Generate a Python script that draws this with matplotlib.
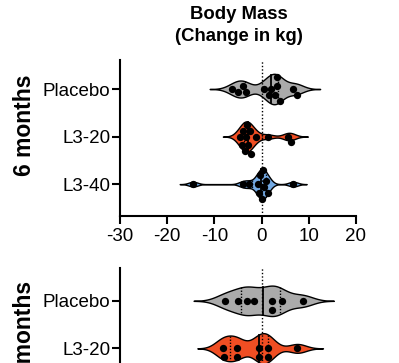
import numpy as np
import matplotlib
matplotlib.use('Agg')
from matplotlib import pyplot as plt

plt.rcParams['font.family'] = ['Liberation Sans', 'DejaVu Sans']
plt.rcParams['axes.unicode_minus'] = False

groups = ['Placebo', 'L3-20', 'L3-40']
colors = ['#ababab', '#f04e23', '#74aae4']

# change in body mass (kg)
m6_placebo = [-6.2, -4.9, -4.0, -3.2, 0.5, 1.5, 2.0, 2.9, 3.2, 3.2, 3.9, 6.7, 7.6]
m6_l320 = [-4.6, -4.2, -3.9, -3.5, -3.2, -3.0, -2.8, -2.5, -2.2, -1.1, 1.4, 5.5, 6.2]
m6_l340 = [-14.5, -4.0, -2.6, -0.7, -0.5, -0.3, 0.0, 0.3, 0.5, 1.0, 1.4, 6.7]
m12_placebo = [-7.8, -4.9, -3.0, -1.6, 2.1, 2.1, 4.4, 8.7]
m12_l320 = [-8.2, -8.0, -5.3, -5.2, -0.6, -0.5, 1.4, 1.4, 7.6]

# kernel bandwidths per violin
bw_6 = [1.6, 1.2, 0.95]
bw_12 = [2.2, 1.8]

W, H = 399, 363
DOT = 7.3  # px


def kde(vals, bw, n=400):
    vals = np.asarray(vals)
    xs = np.linspace(vals.min() - 3 * bw, vals.max() + 3 * bw, n)
    d = np.exp(-0.5 * ((xs[:, None] - vals[None, :]) / bw) ** 2).sum(axis=1)
    return xs, d / d.max()


def swarm(vals, xscale, yscale):
    vals = np.asarray(vals)
    placed = []
    res = np.zeros(len(vals))
    cands = [0.0]
    for j in range(1, 30):
        cands += [j * DOT * 0.4, -j * DOT * 0.4]
    for i in np.argsort(vals):
        x = vals[i] * xscale
        for c in cands:
            if all((x - px) ** 2 + (c - py) ** 2 >= (DOT * 0.85) ** 2 for px, py in placed):
                break
        placed.append((x, c))
        res[i] = c / yscale
    return res


def violin(ax, vals, pos, bw, color, half=0.32):
    xs, d = kde(vals, bw)
    w = d * half
    ax.fill_between(xs, pos - w, pos + w, facecolor=color, edgecolor='black', lw=1, zorder=2)
    q1, med, q3 = np.percentile(vals, [25, 50, 75], method='weibull')
    for q, ls, lw in [(q1, (0, (1, 1.2)), 1), (med, '-', 1.3), (q3, (0, (1, 1.2)), 1)]:
        h = np.interp(q, xs, w)
        ax.plot([q, q], [pos - h, pos + h], color='black', ls=ls, lw=lw, zorder=3)
    # px per unit: x 4.73, y 47.5
    offs = swarm(vals, 4.73, 47.5)
    ax.scatter(vals, pos + offs, s=DOT ** 2 * 0.52, color='black', zorder=5, lw=0)


fig = plt.figure(figsize=(W / 100, H / 100), dpi=100)
ax1 = fig.add_axes([120 / W, (H - 216) / H, 236 / W, 156 / H])
ax2 = fig.add_axes([120 / W, (H - 424) / H, 236 / W, 156 / H])

for i, (vals, bw) in enumerate(zip([m6_placebo, m6_l320, m6_l340], bw_6)):
    violin(ax1, vals, i, bw, colors[i])
for i, (vals, bw) in enumerate(zip([m12_placebo, m12_l320], bw_12)):
    violin(ax2, vals, i, bw, colors[i])

ax1.set_ylim(2.67, -0.61)
ax2.set_ylim(2.59, -0.69)

for ax in (ax1, ax2):
    ax.axvline(0, color='black', ls=(0, (1, 1.5)), lw=1, zorder=4)
    ax.set_xlim(-30, 20)
    ax.set_xticks([-30, -20, -10, 0, 10, 20])
    ax.set_yticks(range(3), groups)
    ax.spines[['top', 'right']].set_visible(False)
    ax.spines[['left', 'bottom']].set_linewidth(1.5)
    ax.tick_params(width=1.5, length=5.5, labelsize=13.5, colors='black')
    ax.tick_params(axis='y', pad=1.5)
    ax.tick_params(axis='x', pad=3)
# x axis of the lower panel lies below the visible area
ax2.tick_params(axis='x', labelbottom=False)

fig.text(0.598, 1 - 6 / H, 'Body Mass\n(Change in kg)', ha='center', va='top',
         fontsize=13.3, fontweight='bold', linespacing=1.4)
fig.text(25 / W, 1 - 75 / H, '6 months', rotation=90, ha='center', va='top',
         fontsize=16.5, fontweight='bold')
fig.text(25 / W, 1 - 281 / H, '12 months', rotation=90, ha='center', va='top',
         fontsize=16.5, fontweight='bold')

fig.savefig('out.png', dpi=100)
